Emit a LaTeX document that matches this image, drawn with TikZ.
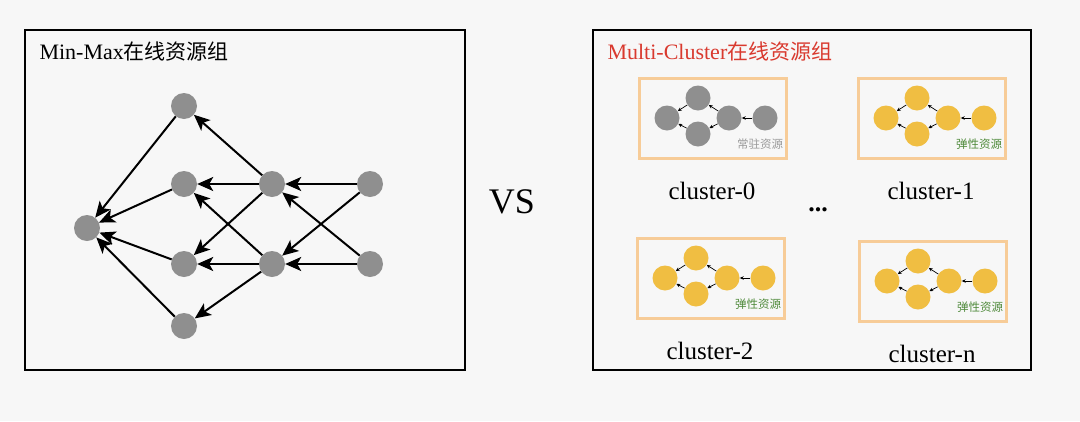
\documentclass[tikz,border=0pt]{standalone}
\usepackage{fontspec}
\setmainfont{Liberation Serif}
\newfontfamily\cjk{Noto Sans CJK SC}
\usetikzlibrary{arrows.meta}
\definecolor{bggray}{HTML}{F7F7F7}
\definecolor{dotgray}{HTML}{8F8F8F}
\definecolor{dotyellow}{HTML}{F0BE42}
\definecolor{boxorange}{HTML}{F7CC98}
\definecolor{titlered}{HTML}{D93A2F}
\definecolor{taggreen}{HTML}{4F8A3B}
\definecolor{taggray}{HTML}{9A9A9A}

\begin{document}
\begin{tikzpicture}[x=1pt,y=-1pt,>=Stealth,
  frame/.style={draw,line width=2pt},
  gdot/.style={circle,fill=dotgray,minimum size=26pt,inner sep=0pt},
  ydot/.style={gdot,fill=dotyellow,minimum size=25pt},
  link/.style={line width=2pt,-{Stealth[length=16pt,width=14pt,inset=4pt]}},
  thin link/.style={line width=.7pt,-{Stealth[length=4pt,width=3.5pt]}},
  clubox/.style={draw=boxorange,line width=3pt},
  bigtext/.style={font=\fontsize{22}{26}\selectfont},
  nametext/.style={font=\fontsize{25}{29}\selectfont},
  tag/.style={font=\cjk\fontsize{11.5}{13}\selectfont}]
  \fill[bggray] (0,0) rectangle (1080,421);
  \draw[frame] (25,30) rectangle (465,370);
  \draw[frame] (593,30) rectangle (1031,370);
  \node[anchor=west,bigtext] (mmtitle) at (36,52) {Min-Max{\cjk\fontsize{21}{25}\selectfont 在线资源组}};
  \node[anchor=west,bigtext,text=titlered] (mctitle) at (604,52) {Multi-Cluster{\cjk\fontsize{21}{25}\selectfont 在线资源组}};
  \node[font=\fontsize{36}{40}\selectfont] (vs) at (512,202) {VS};
  \node[gdot] (sink) at (87,228) {};
  \node[gdot] (a1) at (184,106) {};
  \node[gdot] (a2) at (184,184) {};
  \node[gdot] (a3) at (184,264) {};
  \node[gdot] (a4) at (184,326) {};
  \node[gdot] (b1) at (272,184) {};
  \node[gdot] (b2) at (272,264) {};
  \node[gdot] (s1) at (370,184) {};
  \node[gdot] (s2) at (370,264) {};
  \draw[link] (a1) -- (sink);
  \draw[link] (a2) -- (sink);
  \draw[link] (a3) -- (sink);
  \draw[link] (a4) -- (sink);
  \draw[link] (b1) -- (a1);
  \draw[link] (b1) -- (a2);
  \draw[link] (b1) -- (a3);
  \draw[link] (b2) -- (a2);
  \draw[link] (b2) -- (a3);
  \draw[link] (b2) -- (a4);
  \draw[link] (s1) -- (b1);
  \draw[link] (s1) -- (b2);
  \draw[link] (s2) -- (b1);
  \draw[link] (s2) -- (b2);
  \foreach \i/\ox/\oy/\dot/\tagtext/\tagcol in {0/639/78/gdot/常驻资源/taggray,1/858/78/ydot/弹性资源/taggreen,2/637/238/ydot/弹性资源/taggreen,n/859/241/ydot/弹性资源/taggreen}{
    \draw[clubox] (\ox,\oy) rectangle (\ox+147,\oy+80);
    \node[\dot,minimum size=25pt] (c\i-l) at (\ox+28,\oy+40) {};
    \node[\dot,minimum size=25pt] (c\i-t) at (\ox+59,\oy+20) {};
    \node[\dot,minimum size=25pt] (c\i-b) at (\ox+59,\oy+56) {};
    \node[\dot,minimum size=25pt] (c\i-m) at (\ox+90,\oy+40) {};
    \node[\dot,minimum size=25pt] (c\i-r) at (\ox+126,\oy+40) {};
    \draw[thin link] (c\i-r) -- (c\i-m);
    \draw[thin link] (c\i-m) -- (c\i-t);
    \draw[thin link] (c\i-m) -- (c\i-b);
    \draw[thin link] (c\i-t) -- (c\i-l);
    \draw[thin link] (c\i-b) -- (c\i-l);
    \node[tag,text=\tagcol] (c\i-tag) at (\ox+121,\oy+66) {\tagtext};
    \node[nametext] (c\i-name) at (\ox+73,\oy+113) {cluster-\i};
  }
  \node[font=\bfseries\fontsize{26}{30}\selectfont] (more) at (818,210) {...};
\end{tikzpicture}
\end{document}
